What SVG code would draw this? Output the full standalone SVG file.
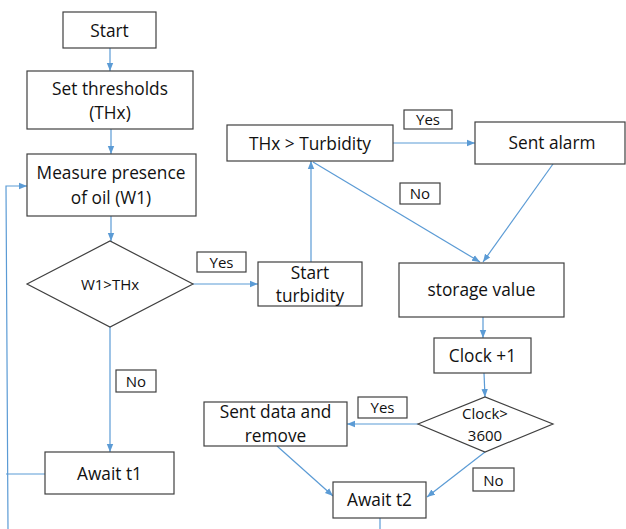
<svg xmlns="http://www.w3.org/2000/svg" width="626" height="529" viewBox="0 0 626 529">
<style>
.b{fill:#fff;stroke:#404040;stroke-width:1.2}
.t{font-family:"Open Sans","Liberation Sans",sans-serif;font-size:17.3px;fill:#111;text-anchor:middle}
.s{font-size:15px}
.c{fill:none;stroke:#5B9BD5;stroke-width:1.2}
</style>
<defs>
<marker id="a" viewBox="0 0 10 10" refX="10" refY="5" markerWidth="8" markerHeight="8" markerUnits="userSpaceOnUse" orient="auto">
<path d="M0,1 L10,5 L0,9 z" fill="#5B9BD5"/>
</marker>
</defs>
<rect width="626" height="529" fill="#fff"/>
<g id="connectors">
<path class="c" d="M110,48 V71" marker-end="url(#a)"/>
<path class="c" d="M111,129 V154" marker-end="url(#a)"/>
<path class="c" d="M111,216 V241" marker-end="url(#a)"/>
<path class="c" d="M193,284 H258" marker-end="url(#a)"/>
<path class="c" d="M110,327 V452" marker-end="url(#a)"/>
<path class="c" d="M45,474 H6"/>
<path class="c" d="M8,529 L6,186 H27" marker-end="url(#a)"/>
<path class="c" d="M311,262 V161" marker-end="url(#a)"/>
<path class="c" d="M393,143 H475" marker-end="url(#a)"/>
<path class="c" d="M313,162 L480,262" marker-end="url(#a)"/>
<path class="c" d="M553,164 L483,262" marker-end="url(#a)"/>
<path class="c" d="M483,317 V338" marker-end="url(#a)"/>
<path class="c" d="M484,373 L485,397" marker-end="url(#a)"/>
<path class="c" d="M418,424 H347" marker-end="url(#a)"/>
<path class="c" d="M485,452 L427,497" marker-end="url(#a)"/>
<path class="c" d="M277,446 L333,496" marker-end="url(#a)"/>
<path class="c" d="M380,518 V529"/>
</g>
<g id="start"><rect class="b" x="63" y="12" width="93" height="36"/><text class="t" x="109.5" y="37">Start</text></g>
<g id="set"><rect class="b" x="27" y="71" width="166" height="58"/><text class="t" x="110" y="95">Set thresholds</text><text class="t" x="110" y="119">(THx)</text></g>
<g id="measure"><rect class="b" x="27" y="154" width="169" height="62"/><text class="t" x="111" y="179">Measure presence</text><text class="t" x="111" y="204">of oil (W1)</text></g>
<g id="w1"><path class="b" d="M27,284 L110,241 L193,284 L110,327 z"/><text class="t s" x="110" y="290">W1&gt;THx</text></g>
<g id="yes1"><rect class="b" x="197" y="252" width="49" height="20"/><text class="t s" x="221.5" y="268">Yes</text></g>
<g id="startturb"><rect class="b" x="258" y="262" width="104" height="44"/><text class="t" x="310" y="279">Start</text><text class="t" x="310" y="302">turbidity</text></g>
<g id="no1"><rect class="b" x="116" y="370" width="40" height="22"/><text class="t s" x="136" y="387">No</text></g>
<g id="await1"><rect class="b" x="45" y="452" width="129" height="42"/><text class="t" x="109.5" y="480">Await t1</text></g>
<g id="thx"><rect class="b" x="227" y="125" width="166" height="36"/><text class="t" x="310" y="150">THx &gt; Turbidity</text></g>
<g id="yes2"><rect class="b" x="404" y="110" width="48" height="19"/><text class="t s" x="428" y="125">Yes</text></g>
<g id="alarm"><rect class="b" x="475" y="122" width="150" height="42"/><text class="t" x="552" y="149">Sent alarm</text></g>
<g id="no2"><rect class="b" x="400" y="183" width="40" height="21"/><text class="t s" x="420" y="199">No</text></g>
<g id="storage"><rect class="b" x="399" y="263" width="165" height="54"/><text class="t" x="481.5" y="296">storage value</text></g>
<g id="clock1"><rect class="b" x="434" y="338" width="97" height="35"/><text class="t" x="482.5" y="362">Clock +1</text></g>
<g id="clockd"><path class="b" d="M418,424 L485,397 L553,424 L485,452 z"/><text class="t s" x="485" y="419">Clock&gt;</text><text class="t s" x="485" y="441">3600</text></g>
<g id="yes3"><rect class="b" x="358" y="397" width="49" height="21"/><text class="t s" x="382.5" y="413">Yes</text></g>
<g id="sentdata"><rect class="b" x="204" y="402" width="143" height="44"/><text class="t" x="275.5" y="418">Sent data and</text><text class="t" x="275.5" y="442">remove</text></g>
<g id="no3"><rect class="b" x="473" y="468" width="41" height="23"/><text class="t s" x="493.5" y="486">No</text></g>
<g id="await2"><rect class="b" x="333" y="482" width="93" height="36"/><text class="t" x="379.5" y="506">Await t2</text></g>
</svg>
